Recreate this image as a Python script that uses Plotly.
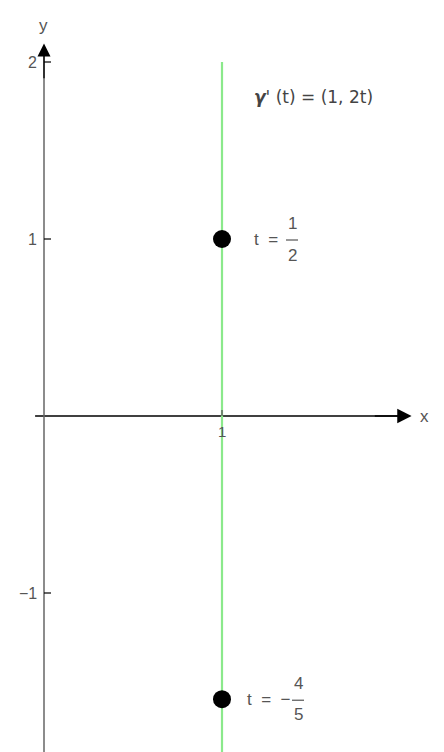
import plotly.graph_objects as go

# ---- data ----
line_x = [1, 1]
line_y = [2, -2]
point_x = [1, 1]
point_y = [1.0, -1.6]
y_ticks = [2, 1, -1]
y_tick_labels = ["2", "1", "−1"]
x_ticks = [1]
x_tick_labels = ["1"]

W, H = 444, 752
OFF = 8  # page body margin
ppx, ppy = 178.0, 177.0
x0px, y0px = 44, 416  # origin in page coordinates
xr = [-(x0px - OFF) / ppx, (W - (x0px - OFF)) / ppx]
yr = [-(H - (y0px - OFF)) / ppy, (y0px - OFF) / ppy]

def dx(px):
    return px / ppx

def dy(py):
    return py / ppy

FONT = "Liberation Sans"
TXT = "#555555"

fig = go.Figure()
fig.add_trace(go.Scatter(x=line_x, y=line_y, mode="lines",
                         line=dict(color="#8be98b", width=2.2), hoverinfo="skip"))
fig.add_trace(go.Scatter(x=point_x, y=point_y, mode="markers",
                         marker=dict(color="black", size=18), hoverinfo="skip"))

shapes = []
shapes.append(dict(type="line", x0=-0.05, x1=2.02, y0=0, y1=0,
                   line=dict(color="black", width=1.3), layer="below"))
shapes.append(dict(type="line", x0=0, x1=0, y0=yr[0], y1=2.06,
                   line=dict(color="#666666", width=1.5), layer="below"))
for t in y_ticks:
    shapes.append(dict(type="line", x0=0, x1=dx(7), y0=t, y1=t,
                       line=dict(color="black", width=1.2)))
for t in x_ticks:
    shapes.append(dict(type="line", x0=t, x1=t, y0=0, y1=dy(6),
                       line=dict(color="#666666", width=1.5)))

annotations = []
annotations.append(dict(x=2.065, y=0, ax=1.85, ay=0, axref="x", ayref="y",
                        xref="x", yref="y", text="", showarrow=True,
                        arrowhead=2, arrowsize=2.2, arrowwidth=1.3, arrowcolor="black"))
annotations.append(dict(x=0, y=2.105, ax=0, ay=1.9, axref="x", ayref="y",
                        xref="x", yref="y", text="", showarrow=True,
                        arrowhead=2, arrowsize=2.0, arrowwidth=1.3, arrowcolor="black"))

def txt(x, y, s, size=15, xanchor="center", color=TXT, family=FONT):
    annotations.append(dict(x=x, y=y, xref="x", yref="y", text=s, showarrow=False,
                            xanchor=xanchor, yanchor="middle",
                            font=dict(family=family, size=size, color=color)))

txt(dx(43 - x0px), dy(y0px - 25), "y", 17)
txt(dx(424 - x0px), 0, "x", 17)
for t, lab in zip(y_ticks, y_tick_labels):
    txt(-dx(5), t, lab, 16, xanchor="right")
for t, lab in zip(x_ticks, x_tick_labels):
    txt(t, -dy(15), lab, 15)

# curve label
txt(dx(252 - x0px), dy(y0px - 97),
    "<b><i>γ</i></b>' (t) = (1, 2t)", 17, xanchor="left", color="#444444",
    family="DejaVu Sans")

# t = 1/2
txt(dx(252 - x0px), 1.0, "t  =", 17, xanchor="left")
txt(dx(292 - x0px), 1.0 + dy(16), "1", 17)
txt(dx(292 - x0px), 1.0 - dy(16), "2", 17)
shapes.append(dict(type="line", x0=dx(286 - x0px), x1=dx(298 - x0px), y0=1.0 - dy(1), y1=1.0 - dy(1),
                   line=dict(color="#333333", width=1)))

# t = -4/5
txt(dx(245 - x0px), -1.6, "t  =  −", 17, xanchor="left")
txt(dx(298 - x0px), -1.6 + dy(16), "4", 17)
txt(dx(298 - x0px), -1.6 - dy(15), "5", 17)
shapes.append(dict(type="line", x0=dx(292 - x0px), x1=dx(304 - x0px), y0=-1.6 - dy(1), y1=-1.6 - dy(1),
                   line=dict(color="#333333", width=1)))

fig.update_layout(
    width=W, height=H,
    margin=dict(l=0, r=0, t=0, b=0),
    paper_bgcolor="white", plot_bgcolor="white",
    showlegend=False,
    xaxis=dict(range=xr, visible=False, fixedrange=True),
    yaxis=dict(range=yr, visible=False, fixedrange=True),
    shapes=shapes, annotations=annotations,
)
fig.write_html("out.html")
